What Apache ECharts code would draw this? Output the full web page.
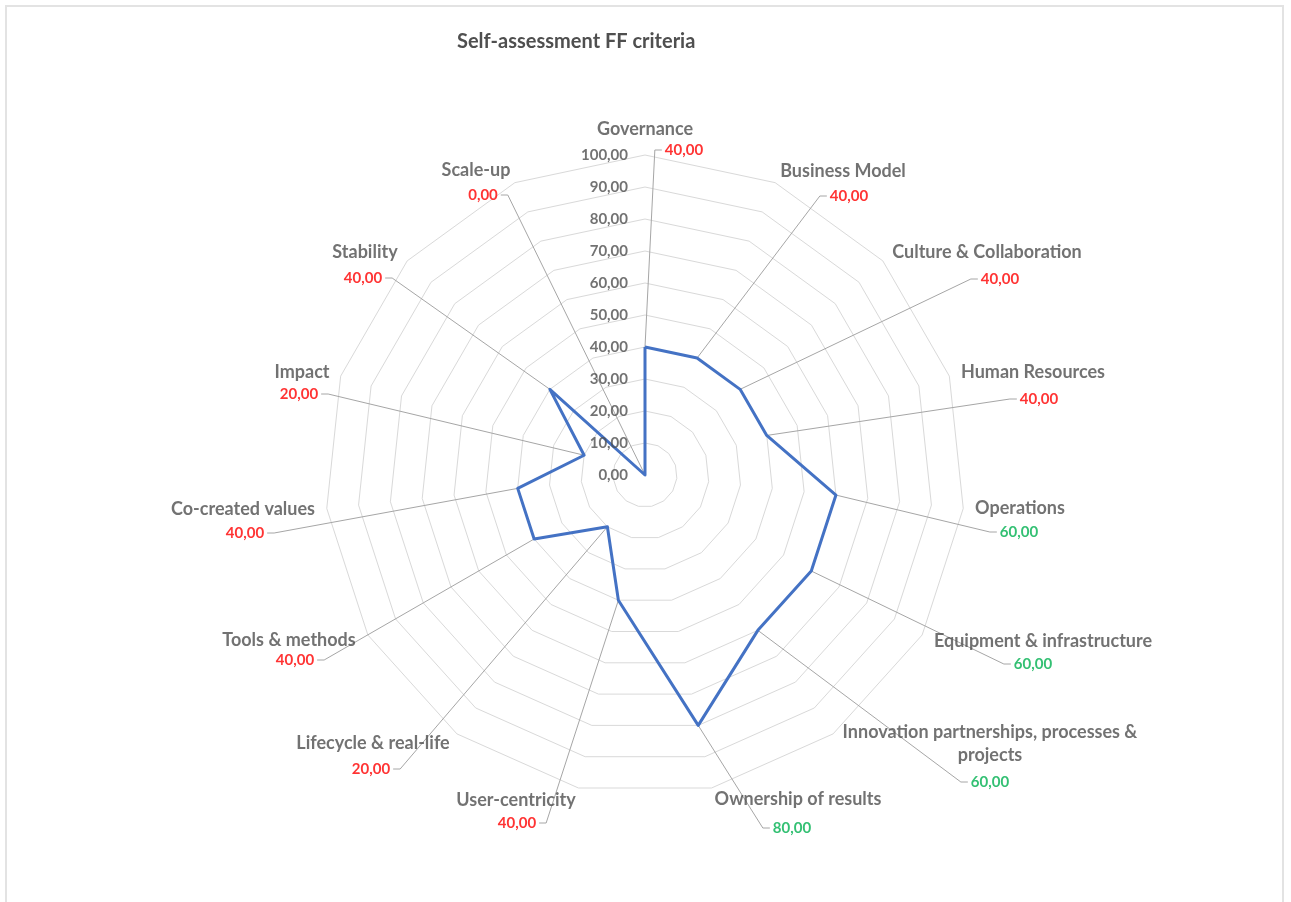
<!DOCTYPE html>
<html>
<head>
<meta charset="utf-8">
<title>Self-assessment FF criteria</title>
<script src="https://cdn.jsdelivr.net/npm/echarts@6/dist/echarts.min.js"></script>
<style>
  html, body { margin: 0; padding: 0; background: #fff; }
  #chart { width: 1291px; height: 902px; }
</style>
</head>
<body>
<div id="chart"></div>
<script>
// clockwise from the top
const categories = [
  'Governance', 'Business Model', 'Culture & Collaboration', 'Human Resources',
  'Operations', 'Equipment & infrastructure', 'Innovation partnerships, processes &\nprojects',
  'Ownership of results', 'User-centricity', 'Lifecycle & real-life', 'Tools & methods',
  'Co-created values', 'Impact', 'Stability', 'Scale-up'
];
const scores = [40, 40, 40, 40, 60, 60, 60, 80, 40, 20, 40, 40, 20, 40, 0];
const ticks = [0, 10, 20, 30, 40, 50, 60, 70, 80, 90, 100];

// label layout, px from the radar centre: [value dx, value dy, name dx, name dy]
const labelOffsets = [
  [39, -325, -39, -21], [204, -279, -6, -25], [355, -196, -13, -27], [394, -76, -6, -27],
  [374, 57, 1, -24], [388, 189, 10, -23], [345, 307, 0, -38], [147, 353, 6, -29],
  [-128, 348, -1, -23], [-274, 294, 2, -26], [-350, 185, -6, -20], [-400, 58, -2, -24],
  [-346, -81, 3, -22], [-282, -197, 2, -26], [-162, -280, -7, -25]
];

const CX = 645, CY = 475, R = 320, MAX = 100;
const PX = R / MAX;
const n = categories.length;
const FONT = 'Lato, "Open Sans", sans-serif';
const TEXT = '#4f4f4f';
const fmt = v => v.toFixed(2).replace('.', ',');

const ctx = document.createElement('canvas').getContext('2d');
ctx.font = 'bold 15px Lato';

// value on axis i -> x/y in the overlay grid (units of the radar scale)
function onAxis(v, i) {
  const a = i * 2 * Math.PI / n;
  return [v * Math.sin(a), v * Math.cos(a)];
}

const leaders = [], valuePts = [], namePts = [];
categories.forEach((name, i) => {
  const [dx, dy, ndx, ndy] = labelOffsets[i];
  const lx = dx / PX, ly = -dy / PX;
  const half = ctx.measureText(fmt(scores[i])).width / 2;
  const side = dx > 0 ? -1 : 1;
  const tickEnd = lx + side * (half + 3) / PX;
  const tickStart = tickEnd + side * 7 / PX;
  leaders.push({ coords: [onAxis(scores[i], i), [tickStart, ly], [tickEnd, ly]] });
  valuePts.push({
    value: [lx, ly],
    label: { formatter: fmt(scores[i]), color: scores[i] >= 60 ? '#00b050' : '#ff0000' }
  });
  namePts.push({ value: [lx + ndx / PX, -(dy + ndy) / PX], label: { formatter: name } });
});

// echarts radar runs counter-clockwise, so feed it in reverse after the first axis
const order = [0].concat(categories.map((c, i) => i).slice(1).reverse());

const chart = echarts.init(document.getElementById('chart'));
const L = 130;
chart.setOption({
  animation: false,
  backgroundColor: '#fff',
  title: {
    text: 'Self-assessment FF criteria',
    left: 452, top: 27,
    textStyle: { fontFamily: FONT, fontWeight: 'bold', fontSize: 20, color: TEXT }
  },
  graphic: [{
    type: 'rect', shape: { x: 6, y: 6, width: 1277, height: 920 },
    style: { fill: 'none', stroke: '#e3e3e3', lineWidth: 2 }, silent: true
  }],
  radar: {
    center: [CX, CY],
    radius: R,
    startAngle: 90,
    shape: 'polygon',
    splitNumber: 10,
    indicator: order.map(i => ({ name: categories[i], min: 0, max: MAX })),
    axisName: { show: false },
    axisLine: { show: false },
    axisTick: { show: false },
    axisLabel: { show: false },
    splitArea: { show: false },
    splitLine: { lineStyle: { color: '#d9d9d9', width: 1 } }
  },
  grid: { left: CX - L * PX, top: CY - L * PX, width: 2 * L * PX, height: 2 * L * PX },
  xAxis: { type: 'value', min: -L, max: L, show: false },
  yAxis: { type: 'value', min: -L, max: L, show: false },
  series: [
    {
      type: 'lines', coordinateSystem: 'cartesian2d', polyline: true, silent: true, z: 2,
      lineStyle: { color: '#a6a6a6', width: 1, opacity: 1 },
      data: leaders
    },
    {
      type: 'radar', z: 3, symbol: 'none',
      lineStyle: { color: '#4472c4', width: 3 },
      data: [{ value: order.map(i => scores[i]), name: 'Score' }]
    },
    {
      type: 'scatter', symbolSize: 0, silent: true, clip: false, z: 4,
      label: {
        show: true, position: 'left', distance: 17,
        fontFamily: FONT, fontWeight: 'bold', fontSize: 15, color: TEXT,
        formatter: p => fmt(p.value[1])
      },
      data: ticks.map(t => [0, t])
    },
    {
      type: 'scatter', symbolSize: 0, silent: true, clip: false, z: 4,
      label: {
        show: true, position: 'inside', align: 'center', verticalAlign: 'middle',
        fontFamily: FONT, fontWeight: 'bold', fontSize: 15
      },
      data: valuePts
    },
    {
      type: 'scatter', symbolSize: 0, silent: true, clip: false, z: 4,
      label: {
        show: true, position: 'inside', align: 'center', verticalAlign: 'middle',
        fontFamily: FONT, fontWeight: 'bold', fontSize: 18, lineHeight: 23, color: TEXT
      },
      data: namePts
    }
  ]
});
</script>
</body>
</html>
